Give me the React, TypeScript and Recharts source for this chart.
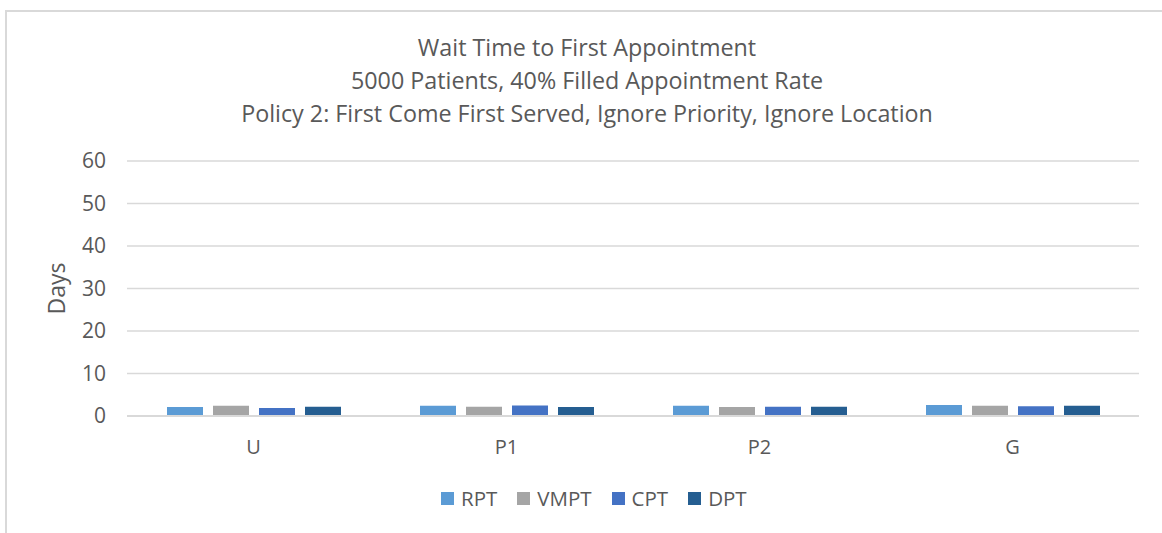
import React from 'react';
import { BarChart, Bar, XAxis, YAxis, CartesianGrid } from 'recharts';

const categories = ['U', 'P1', 'P2', 'G'];
const rpt = [2.1, 2.4, 2.4, 2.6];
const vmpt = [2.4, 2.2, 2.1, 2.4];
const cpt = [1.9, 2.5, 2.2, 2.3];
const dpt = [2.2, 2.1, 2.2, 2.4];
const yTicks = [0, 10, 20, 30, 40, 50, 60];
const titleLines = [
  'Wait Time to First Appointment',
  '5000 Patients, 40% Filled Appointment Rate',
  'Policy 2: First Come First Served, Ignore Priority, Ignore Location',
];

const series = [
  { key: 'RPT', values: rpt, color: '#5B9BD5' },
  { key: 'VMPT', values: vmpt, color: '#A5A5A5' },
  { key: 'CPT', values: cpt, color: '#4472C4' },
  { key: 'DPT', values: dpt, color: '#255E91' },
];

const data = categories.map((c, i) => {
  const row: Record<string, string | number> = { name: c };
  series.forEach((s) => (row[s.key] = s.values[i]));
  return row;
});

const FONT = '"Open Sans", "Noto Sans", sans-serif';
const TEXT = '#595959';

export default function App() {
  return (
    <div style={{ position: 'absolute', left: 0, top: 0, width: 1162, height: 533, background: '#fff', fontFamily: FONT, overflow: 'hidden' }}>
      <div style={{ position: 'absolute', left: 5, top: 10, width: 1160, height: 530, border: '2px solid #d9d9d9', boxSizing: 'border-box' }} />
      <div style={{ position: 'absolute', left: 0, top: 31, width: 1174, textAlign: 'center', color: TEXT, fontSize: 23.3, lineHeight: '33px' }}>
        {titleLines.map((t) => (
          <div key={t}>{t}</div>
        ))}
      </div>
      <div style={{ position: 'absolute', left: 0, top: 0 }}>
        <BarChart
          width={1162}
          height={533}
          data={data}
          margin={{ top: 161, right: 23, bottom: 0, left: 0 }}
          barSize={36}
          barGap={10}
        >
          <CartesianGrid vertical={false} stroke="#d9d9d9" strokeWidth={1.3} />
          <XAxis
            dataKey="name"
            height={117}
            axisLine={{ stroke: '#d9d9d9', strokeWidth: 2 }}
            tickLine={false}
            tickMargin={18}
            tick={{ fill: TEXT, fontSize: 20, fontFamily: FONT }}
          />
          <YAxis
            width={127}
            domain={[0, 60]}
            ticks={yTicks}
            axisLine={false}
            tickLine={false}
            tickMargin={15}
            tick={{ fill: TEXT, fontSize: 21, fontFamily: FONT }}
            label={{ value: 'Days', angle: -90, position: 'insideLeft', offset: 57, fill: TEXT, fontSize: 23, fontFamily: FONT, style: { textAnchor: 'middle' } }}
          />
          {series.map((s) => (
            <Bar key={s.key} dataKey={s.key} fill={s.color} isAnimationActive={false} />
          ))}
        </BarChart>
      </div>
      <div style={{ position: 'absolute', left: 441, top: 485, height: 26, display: 'flex', alignItems: 'center', color: TEXT, fontSize: 20.5 }}>
        {series.map((s) => (
          <div key={s.key} style={{ display: 'flex', alignItems: 'center', marginRight: 20 }}>
            <span style={{ display: 'inline-block', width: 13, height: 13, background: s.color, marginRight: 7 }} />
            <span>{s.key}</span>
          </div>
        ))}
      </div>
    </div>
  );
}
